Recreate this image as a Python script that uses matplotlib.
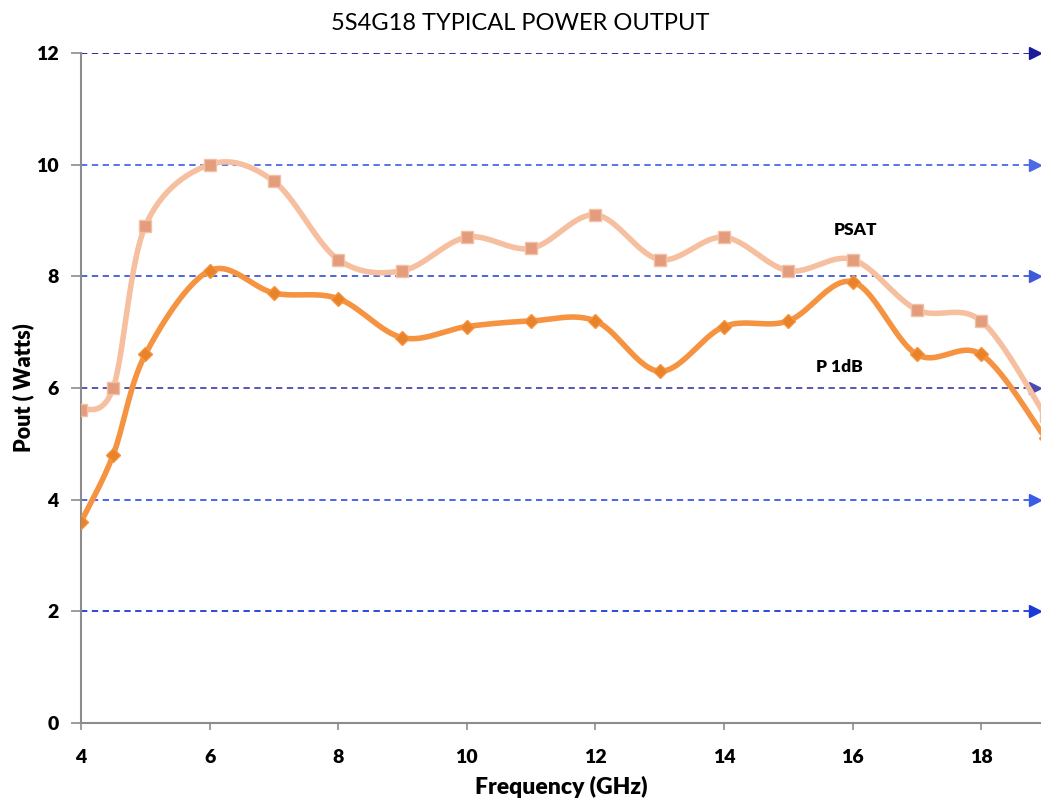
import numpy as np
import matplotlib
matplotlib.use('Agg')
import matplotlib.pyplot as plt

freq = [4, 4.5, 5, 6, 7, 8, 9, 10, 11, 12, 13, 14, 15, 16, 17, 18, 19]
psat = [5.6, 6.0, 8.9, 10.0, 9.7, 8.3, 8.1, 8.7, 8.5, 9.1, 8.3, 8.7, 8.1, 8.3, 7.4, 7.2, 5.5]
p1db = [3.6, 4.8, 6.6, 8.1, 7.7, 7.6, 6.9, 7.1, 7.2, 7.2, 6.3, 7.1, 7.2, 7.9, 6.6, 6.6, 5.1]

grid_vals = [2, 4, 6, 8, 10, 12]
grid_cols = ['#1a3ad8', '#3a5ae8', '#4a4ab0', '#3f5ad8', '#4a6ae8', '#1b1b9b']


def smooth(x, y, n=30):
    # excel-like smoothed line (catmull-rom bezier)
    x = np.asarray(x, float)
    y = np.asarray(y, float)
    p = np.column_stack([x, y])
    p = np.vstack([p[0], p, p[-1]])
    out = []
    t = np.linspace(0, 1, n)[:, None]
    for i in range(1, len(p) - 2):
        p0, p3 = p[i], p[i + 1]
        c1 = p0 + (p[i + 1] - p[i - 1]) / 6
        c2 = p3 - (p[i + 2] - p[i]) / 6
        seg = (1 - t)**3 * p0 + 3 * (1 - t)**2 * t * c1 + 3 * (1 - t) * t**2 * c2 + t**3 * p3
        out.append(seg)
    out = np.vstack(out)
    return out[:, 0], out[:, 1]


plt.rcParams['font.family'] = ['Lato', 'DejaVu Sans']

fig = plt.figure(figsize=(10.41, 8.02), dpi=100)
ax = fig.add_axes([0.0778, 0.0985, 0.9222, 0.8355])

xmax = 18.93
ax.set_xlim(4, xmax)
ax.set_ylim(0, 12)

for v, c in zip(grid_vals, grid_cols):
    ax.plot([4, xmax - 0.08], [v, v], color=c, lw=1.3, ls=(0, (3.5, 2.5)), zorder=1)
    ax.plot([xmax - 0.09], [v], marker='>', color=c, ms=8, clip_on=False, zorder=1)

sx, sy = smooth(freq, psat)
ax.plot(sx, sy, color='#f5bfa0', lw=4, solid_capstyle='round', zorder=3)
ax.plot(freq, psat, ls='none', marker='s', ms=8, color='#e39c7c', mec='#f3c0a5', mew=1, zorder=4)

sx, sy = smooth(freq, p1db)
ax.plot(sx, sy, color='#f59340', lw=4, solid_capstyle='round', zorder=5)
ax.plot(freq, p1db, ls='none', marker='D', ms=7, color='#e8832a', mec='#f59340', mew=1, zorder=6)

ax.text(16.05, 8.83, 'PSAT', fontsize=12.5, fontweight='heavy', ha='center', va='center')
ax.text(15.8, 6.37, 'P 1dB', fontsize=12.5, fontweight='heavy', ha='center', va='center')

for s in ['top', 'right']:
    ax.spines[s].set_visible(False)
for s in ['left', 'bottom']:
    ax.spines[s].set_color('#8c8c8c')
    ax.spines[s].set_linewidth(1.5)

ax.set_xticks([4, 6, 8, 10, 12, 14, 16, 18])
ax.set_yticks([0, 2, 4, 6, 8, 10, 12])
ax.tick_params(axis='x', colors='#8c8c8c', length=5, width=1.2, pad=14, labelcolor='black')
ax.tick_params(axis='y', colors='#8c8c8c', length=7, width=1.2, pad=9, labelcolor='black')
for lab in ax.get_xticklabels() + ax.get_yticklabels():
    lab.set_fontweight('heavy')
    lab.set_fontsize(14)

ax.set_xlabel('Frequency (GHz)', fontsize=16.5, fontweight='heavy', labelpad=7)
ax.set_ylabel('Pout ( Watts)', fontsize=15.5, fontweight='heavy', labelpad=1)
fig.text(0.5, 0.971, '5S4G18 TYPICAL POWER OUTPUT', fontsize=17, ha='center', va='center')

fig.savefig('out.png', dpi=100)
